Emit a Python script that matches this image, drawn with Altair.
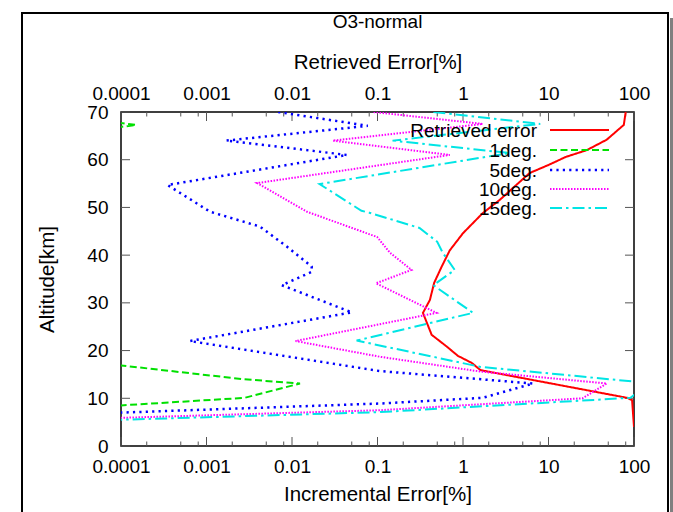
import altair as alt
import pandas as pd

# ---------------- data ----------------
names = ["Retrieved error", "1deg.", "5deg.", "10deg.", "15deg."]

red_alt = [70, 67.3, 64.2, 62, 60.6, 58.9, 57.2, 54, 51.6, 48.8, 44.6, 41, 37.5, 34.2,
           30.6, 27.9, 23.3, 20.8, 18.9, 17.4, 15.9, 10.1, 9.6, 4]
red_val = [80, 76, 48, 28, 16, 10, 6, 3.8, 2.7, 1.7, 1.0, 0.7, 0.56, 0.46,
           0.41, 0.34, 0.43, 0.65, 0.87, 1.27, 1.6, 83, 95, 100]

green_alt = [70, 68, 67.3, 66.5, 17.2, 14, 13.1, 10.1, 8.4, 0]
green_val = [1e-6, 0.00007, 0.00015, 0.00007, 0.00007, 0.0027, 0.0124, 0.0028, 0.00008, 1e-6]

blue_alt = [70, 67.1, 64, 61, 54.7, 49.1, 46, 41.8, 37.6, 36.5, 33.7, 28, 22, 15.7,
            13.1, 10.1, 8.9, 7.0, 5]
blue_val = [0.0069, 0.077, 0.0017, 0.044, 0.00035, 0.0011, 0.0042, 0.0087, 0.017, 0.017,
            0.0076, 0.050, 0.00064, 0.107, 6.6, 1.7, 0.107, 0.0001, 1e-6]

mag_alt = [70, 67.5, 64, 61, 55.1, 49.1, 43.8, 40.5, 36.9, 34.1, 27.9, 22, 18.7, 15.6,
           13.1, 10, 7.5, 5.9, 4]
mag_val = [0.09, 1.7, 0.030, 0.70, 0.0039, 0.015, 0.099, 0.14, 0.25, 0.096, 0.49, 0.011,
           0.107, 1.6, 48, 25, 0.107, 0.0001, 1e-6]

cyan_alt = [70, 67.5, 64, 61.4, 54.9, 49.3, 48.9, 45.7, 42.8, 40.5, 36.9, 33.7, 27.9, 22.1,
            16.6, 13.2, 10.1, 7.1, 5.5, 4]
cyan_val = [0.45, 8, 0.15, 3.5, 0.021, 0.065, 0.08, 0.31, 0.50, 0.58, 0.80, 0.45, 1.31, 0.057,
            1.58, 150, 91, 0.107, 0.0001, 1e-6]

x_major = [0.0001, 0.001, 0.01, 0.1, 1, 10, 100]
x_minor = [0.0002, 0.0005, 0.0008, 0.002, 0.005, 0.008, 0.02, 0.05, 0.08,
           0.2, 0.5, 0.8, 2, 5, 8, 20, 50, 80]
y_major = [0, 10, 20, 30, 40, 50, 60, 70]

# ---------------- styling ----------------
W, H = 513, 334
FONT = "Liberation Sans"
FS = 19
FS_T = 20.5
colors = ["#ff0000", "#00e000", "#0000ff", "#ff00ff", "#00e5e5"]
dashes = [[1, 0], [7, 3.5], [2.2, 4.2], [1.5, 1.5], [12, 4, 2.5, 4]]
widths = [2, 2, 2.5, 2, 2]

xscale = alt.Scale(type="log", domain=[1e-4, 100], nice=False)
yscale = alt.Scale(domain=[0, 70], nice=False, zero=False)

series = [(red_alt, red_val), (green_alt, green_val), (blue_alt, blue_val),
          (mag_alt, mag_val), (cyan_alt, cyan_val)]

layers = []

# outer frame with shadow
one = pd.DataFrame({"k": [0]})
layers.append(alt.Chart(one).mark_rect(color="#808080").encode(
    x=alt.value(549), x2=alt.value(553), y=alt.value(-94), y2=alt.value(430)))
layers.append(alt.Chart(one).mark_rect(fillOpacity=0, stroke="black", strokeWidth=2).encode(
    x=alt.value(-99), x2=alt.value(547), y=alt.value(-99), y2=alt.value(430)))

# axes carriers + tick marks (inward)
bottom_axis = alt.Axis(orient="bottom", values=x_major, format="~g", title="Incremental Error[%]",
                       labelPadding=11, titleX=W / 2, titleY=48, titleAlign="center",
                       titleBaseline="middle", labelFlush=False, labelOverlap=False)
top_axis = alt.Axis(orient="top", values=x_major, format="~g", title="Retrieved Error[%]",
                    labelPadding=9, titleX=W / 2, titleY=-50, titleAlign="center",
                    titleBaseline="middle", labelFlush=False, labelOverlap=False)
left_axis = alt.Axis(orient="left", values=y_major, title="Altitude[km]", labelPadding=13,
                     titleX=-74, titleY=H / 2, titleAngle=270, titleAlign="center",
                     titleBaseline="middle", labelFlush=False, labelOverlap=False)

xmaj = pd.DataFrame({"v": x_major})
xmin = pd.DataFrame({"v": x_minor})
ymaj = pd.DataFrame({"v": y_major})
TC = "#555555"

layers.append(alt.Chart(xmaj).mark_rule(color=TC, strokeWidth=1).encode(
    x=alt.X("v:Q", scale=xscale, axis=bottom_axis), y=alt.value(H), y2=alt.value(H - 9)))
layers.append(alt.Chart(xmaj).mark_rule(color=TC, strokeWidth=1).encode(
    x=alt.X("v:Q", scale=xscale, axis=top_axis), y=alt.value(0), y2=alt.value(9)))
layers.append(alt.Chart(xmin).mark_rule(color=TC, strokeWidth=1).encode(
    x=alt.X("v:Q", scale=xscale, axis=None), y=alt.value(H), y2=alt.value(H - 4.5)))
layers.append(alt.Chart(xmin).mark_rule(color=TC, strokeWidth=1).encode(
    x=alt.X("v:Q", scale=xscale, axis=None), y=alt.value(0), y2=alt.value(4.5)))
layers.append(alt.Chart(ymaj).mark_rule(color=TC, strokeWidth=1).encode(
    y=alt.Y("v:Q", scale=yscale, axis=left_axis), x=alt.value(0), x2=alt.value(9)))
layers.append(alt.Chart(ymaj).mark_rule(color=TC, strokeWidth=1).encode(
    y=alt.Y("v:Q", scale=yscale, axis=None), x=alt.value(W), x2=alt.value(W - 9)))

# data lines
for k, (a, v) in enumerate(series):
    df = pd.DataFrame({"alt": a, "val": v, "i": list(range(len(a)))})
    layers.append(alt.Chart(df).mark_line(
        color=colors[k], strokeDash=dashes[k], strokeWidth=widths[k], clip=True,
        strokeCap="butt", strokeJoin="miter").encode(
        x=alt.X("val:Q", scale=xscale, axis=None),
        y=alt.Y("alt:Q", scale=yscale, axis=None),
        order=alt.Order("i:Q")))

# key (gnuplot style: label left, sample right)
row_y = [18, 38, 58, 77, 96]
for k, name in enumerate(names):
    layers.append(alt.Chart(pd.DataFrame({"t": [name]})).mark_text(
        align="right", baseline="middle", font=FONT, fontSize=FS, color="black").encode(
        text="t:N", x=alt.value(416), y=alt.value(row_y[k] + 1)))
    layers.append(alt.Chart(one).mark_rule(
        color=colors[k], strokeDash=dashes[k], strokeWidth=widths[k], strokeCap="butt").encode(
        x=alt.value(429), x2=alt.value(488), y=alt.value(row_y[k])))

# plot title
layers.append(alt.Chart(pd.DataFrame({"t": ["O3-normal"]})).mark_text(
    align="center", baseline="middle", font=FONT, fontSize=FS, color="black").encode(
    text="t:N", x=alt.value(W / 2), y=alt.value(22 - 112)))

chart = alt.layer(*layers).resolve_axis(x="independent", y="independent").properties(
    width=W, height=H,
    autosize=alt.AutoSizeParams(type="none"),
    padding={"left": 121, "top": 112, "right": 39, "bottom": 66},
    background="white",
).configure_view(stroke="black", strokeWidth=1.5).configure_axis(
    grid=False, ticks=False, domain=False,
    labelFont=FONT, labelFontSize=FS, labelColor="black",
    titleFont=FONT, titleFontSize=FS_T, titleFontWeight="normal", titleColor="black",
)

chart.save("out.html", embed_options={"renderer": "svg", "actions": False})
